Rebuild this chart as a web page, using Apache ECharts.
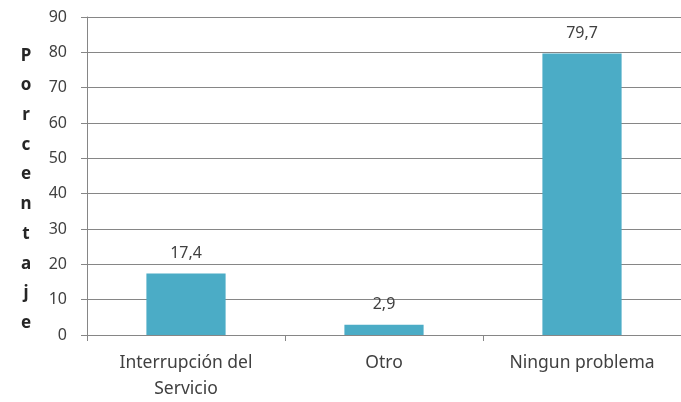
<!DOCTYPE html>
<html><head><meta charset="utf-8">
<script src="https://cdn.jsdelivr.net/npm/echarts@6/dist/echarts.min.js"></script>
<style>html,body{margin:0;padding:0;background:#fff}#c{width:681px;height:402px}</style>
</head><body><div id="c"></div>
<script>
const categories = ["Interrupción del\nServicio", "Otro", "Ningun problema"];
const values = [17.4, 2.9, 79.7];
const yTitle = "Porcentaje";
const chart = echarts.init(document.getElementById('c'), null, {renderer: 'canvas'});
const font = "'Noto Sans', 'Open Sans', sans-serif";
chart.setOption({
  animation: false,
  grid: {left: 87, right: -7, top: 17, bottom: 63, containLabel: false},
  title: {
    text: yTitle.split('').join('\n'),
    left: 21, top: 36, textAlign: 'center',
    textStyle: {fontFamily: font, fontSize: 17, fontWeight: 'bold', color: '#262626', lineHeight: 29.7}
  },
  xAxis: {
    type: 'category', data: categories,
    axisLine: {lineStyle: {color: '#868686', width: 1}},
    axisTick: {show: true, length: 6, lineStyle: {color: '#868686'}},
    axisLabel: {fontFamily: font, fontSize: 17.5, color: '#404040', margin: 15, lineHeight: 26}
  },
  yAxis: {
    type: 'value', min: 0, max: 90, interval: 10,
    axisLine: {show: true, lineStyle: {color: '#868686', width: 1}},
    axisTick: {show: true, length: 6, lineStyle: {color: '#868686'}},
    splitLine: {lineStyle: {color: '#868686', width: 1}},
    axisLabel: {fontFamily: font, fontSize: 16, color: '#404040', margin: 20}
  },
  series: [{
    type: 'bar', data: values, barWidth: '40%',
    itemStyle: {color: '#4BACC6'},
    label: {show: true, position: 'top', distance: 12, fontFamily: font, fontSize: 16, color: '#404040',
      formatter: p => String(p.value).replace('.', ',')}
  }]
});
</script></body></html>
